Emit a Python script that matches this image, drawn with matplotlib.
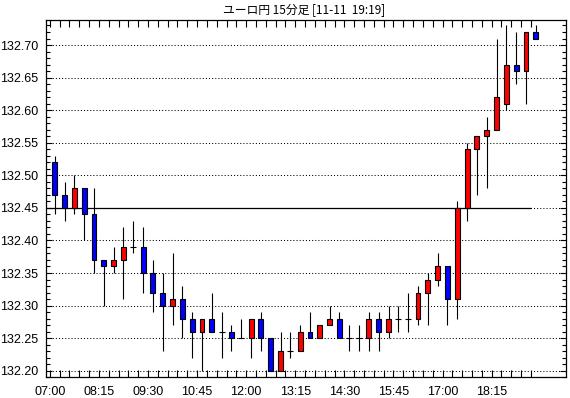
import matplotlib
matplotlib.use("Agg")
import matplotlib.pyplot as plt
from matplotlib.ticker import MultipleLocator, FixedLocator, FixedFormatter
import numpy as np

title_text = "ユーロ円 15分足 [11-11  19:19]"
time_labels = ["07:00", "08:15", "09:30", "10:45", "12:00",
               "13:15", "14:30", "15:45", "17:00", "18:15"]

opens = [132.52, 132.47, 132.45, 132.48, 132.44, 132.37, 132.36, 132.37, 132.39, 132.39,
         132.35, 132.32, 132.30, 132.31, 132.28, 132.26, 132.28, 132.26, 132.26, 132.25,
         132.25, 132.28, 132.25, 132.20, 132.23, 132.23, 132.26, 132.25, 132.27, 132.28,
         132.25, 132.25, 132.25, 132.28, 132.26, 132.28, 132.28, 132.28, 132.32, 132.34,
         132.36, 132.31, 132.45, 132.54, 132.56, 132.57, 132.61, 132.67, 132.66, 132.72]
highs = [132.53, 132.49, 132.50, 132.48, 132.48, 132.37, 132.39, 132.42, 132.43, 132.42,
         132.37, 132.35, 132.38, 132.33, 132.29, 132.28, 132.32, 132.29, 132.27, 132.28,
         132.28, 132.29, 132.25, 132.26, 132.26, 132.27, 132.29, 132.27, 132.30, 132.29,
         132.27, 132.27, 132.29, 132.29, 132.30, 132.30, 132.32, 132.33, 132.35, 132.38,
         132.36, 132.46, 132.55, 132.56, 132.59, 132.71, 132.73, 132.72, 132.72, 132.73]
lows = [132.44, 132.43, 132.44, 132.40, 132.35, 132.30, 132.35, 132.31, 132.38, 132.32,
        132.29, 132.23, 132.27, 132.25, 132.22, 132.20, 132.26, 132.22, 132.23, 132.25,
        132.22, 132.23, 132.20, 132.20, 132.22, 132.23, 132.25, 132.25, 132.27, 132.25,
        132.23, 132.23, 132.23, 132.23, 132.25, 132.26, 132.26, 132.27, 132.27, 132.33,
        132.27, 132.28, 132.43, 132.47, 132.48, 132.57, 132.60, 132.64, 132.61, 132.71]
closes = [132.47, 132.45, 132.48, 132.44, 132.37, 132.36, 132.37, 132.39, 132.39, 132.35,
          132.32, 132.30, 132.31, 132.28, 132.26, 132.28, 132.26, 132.26, 132.25, 132.25,
          132.28, 132.25, 132.20, 132.23, 132.23, 132.26, 132.25, 132.27, 132.28, 132.25,
          132.25, 132.25, 132.28, 132.26, 132.28, 132.28, 132.28, 132.32, 132.34, 132.36,
          132.31, 132.45, 132.54, 132.56, 132.57, 132.62, 132.67, 132.66, 132.72, 132.71]
ref_level = 132.45

UP = "#ff0000"
DOWN = "#0000ff"
tick_font = ["Liberation Sans Narrow", "Liberation Sans", "DejaVu Sans"]

W, H = 570, 398
fig = plt.figure(figsize=(W / 100, H / 100), dpi=100)
fig.patch.set_facecolor("white")
ax = fig.add_axes([45.7 / W, 1 - 377.3 / H, 520 / W, 357.3 / H])

n = len(opens)
x = np.arange(n)
o = np.array(opens); c = np.array(closes)
hi = np.array(highs); lo = np.array(lows)

xmin, xmax = -0.92, 52.04
ax.set_xlim(xmin, xmax)
ax.set_ylim(132.1899, 132.7384)

# grid
ax.yaxis.set_major_locator(MultipleLocator(0.05))
ax.yaxis.set_minor_locator(MultipleLocator(0.01))
ax.grid(axis="y", which="major", color="black", linestyle=(0, (1, 2)), linewidth=0.75)
ax.set_axisbelow(True)

# reference line
ax.hlines(ref_level, xmin, n - 1.5, color="black", linewidth=0.9, zorder=2)

# wicks
ax.vlines(x, lo, hi, color="black", linewidth=0.8, zorder=3)

bw = 0.5
body = o != c
colors = np.where(c > o, UP, DOWN)
ax.bar(x[body], np.abs(c - o)[body], bottom=np.minimum(o, c)[body], width=bw,
       color=colors[body], edgecolor="black", linewidth=0.8, zorder=4)
doji = ~body
ax.hlines(o[doji], x[doji] - bw / 2 - 0.05, x[doji] + bw / 2 + 0.05,
          color="black", linewidth=0.8, zorder=4)

# x ticks at slot boundaries
bounds = x - 0.5
labels = [""] * n
for k, lab in enumerate(time_labels):
    labels[k * 5] = lab
ax.xaxis.set_major_locator(FixedLocator(bounds))
ax.xaxis.set_major_formatter(FixedFormatter(labels))
ax.tick_params(axis="x", which="major", direction="in", length=5, width=0.8,
               top=True, bottom=True, pad=6, labelsize=9, colors="black")
ax.tick_params(axis="y", which="major", direction="in", length=4, width=0.8,
               left=True, right=True, pad=5.3, labelsize=9)
ax.tick_params(axis="y", which="minor", direction="in", length=3, width=0.8,
               left=True, right=True)
ax.yaxis.set_major_formatter(plt.FuncFormatter(lambda v, p: f"{v:.2f}"))
for lab in ax.get_xticklabels() + ax.get_yticklabels():
    lab.set_family(tick_font)

for s in ax.spines.values():
    s.set_color("black")
    s.set_linewidth(0.9)

fig.text(0.534, 1 - 10.5 / H, title_text, ha="center", va="center", fontsize=8.5,
         family=["Noto Sans CJK JP", "DejaVu Sans"])

fig.savefig("out.png", dpi=100)
